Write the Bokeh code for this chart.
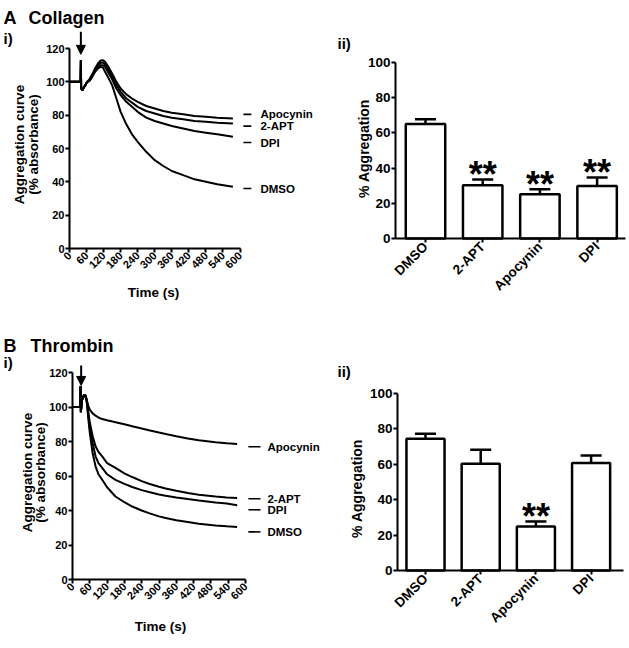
import math
from bokeh.plotting import figure
from bokeh.models import (Range1d, FixedTicker, Arrow, NormalHead, Whisker, TeeHead,
                          ColumnDataSource)
from bokeh.core.properties import value
from bokeh.layouts import row, column
from bokeh.embed import file_html
from bokeh.resources import INLINE

FONT = "Liberation Sans"

# ---------------- data ----------------
series_names = ["Apocynin", "2-APT", "DPI", "DMSO"]

# A(i) collagen aggregation traces (time in s, % absorbance)
collagen_time = [0, 39, 40, 41, 45, 50, 56, 62, 70, 80, 90, 100, 110, 118, 125, 135, 150,
                 165, 180, 200, 220, 240, 270, 300, 330, 360, 400, 440, 480, 520, 575]
collagen_apocynin = [100, 100, 113, 96, 95, 96.5, 98, 100, 101.5, 104.5, 108, 111, 112.8, 113,
                     112, 109.5, 105, 100, 96, 92.5, 90, 88, 85.5, 84, 82.5, 81.5, 80.5, 79.5,
                     79, 78.5, 78]
collagen_2apt = [100, 100, 113, 96, 95, 96.5, 98, 100, 101, 104, 107, 110, 111.5, 111.5, 110.5,
                 107.5, 103, 98, 94, 90, 87.5, 85, 82.5, 81, 79.5, 78.5, 77.5, 76.5, 76, 75.5, 75]
collagen_dpi = [100, 100, 113, 96, 95, 96.5, 98, 100, 100.5, 103.5, 106.5, 109, 110, 110, 109,
                106, 101.5, 96, 92, 88, 85, 82, 78.5, 76.5, 75, 73.5, 72, 70.5, 69.5, 68.5, 67]
collagen_dmso = [100, 100, 113, 96, 95, 96.5, 98, 100, 100.5, 103, 106, 108, 109, 108.5, 106,
                 103, 98, 90, 82, 74.5, 68.5, 64, 58, 53, 49.5, 46.5, 44, 41.5, 40, 38.5, 37]
collagen_label_y = [80.5, 73.4, 63.6, 36.0]
collagen_agonist_t = 40

# B(i) thrombin aggregation traces
thrombin_time = [0, 27, 28, 29, 33, 40, 45, 50, 55, 60, 70, 80, 90, 103, 120, 149, 180, 207,
                 240, 265, 300, 323, 360, 400, 438, 496, 535, 571]
thrombin_apocynin = [100, 100, 112, 97, 104, 107, 106, 103.5, 100.5, 98.5, 96.3, 95, 93.9, 93,
                     92.3, 91.2, 90, 88.8, 87.5, 86.5, 85.2, 84.4, 83.1, 81.8, 80.7, 79.5, 79, 78.6]
thrombin_2apt = [100, 100, 112, 97, 104, 107, 107, 104, 97, 91, 83, 77.2, 74, 71.4, 67.5, 64.7,
                 61.5, 59.4, 57, 55.5, 53.8, 52.8, 51.4, 50.1, 49.1, 48.1, 47.6, 47.2]
thrombin_dpi = [100, 100, 112, 97, 104, 107, 106.5, 103, 95, 88, 79, 71.4, 67.5, 64.7, 61, 57.8,
                55.4, 53.6, 51.8, 50.7, 49.3, 48.5, 47.5, 46.6, 45.8, 44.7, 44, 43.1]
thrombin_dmso = [100, 100, 112, 97, 104, 107, 106, 102, 93, 85, 73, 65.6, 61, 57.8, 53.5, 48.1,
                 44.8, 42.3, 40, 38.5, 36.6, 35.6, 34.3, 33.3, 32.3, 31.3, 30.8, 30.5]
thrombin_label_y = [77.0, 46.8, 40.4, 27.6]
thrombin_agonist_t = 30

time_ticks = [0, 60, 120, 180, 240, 300, 360, 420, 480, 540, 600]
curve_y_ticks = [0, 20, 40, 60, 80, 100, 120]

# (ii) bar charts: % aggregation, mean and upper SEM
bar_categories = ["DMSO", "2-APT", "Apocynin", "DPI"]
collagen_mean = [65.0, 30.3, 25.2, 29.9]
collagen_sem = [2.8, 3.2, 2.8, 4.8]
collagen_sig = ["", "**", "**", "**"]
thrombin_mean = [74.4, 60.3, 24.9, 60.8]
thrombin_sem = [2.8, 7.9, 2.8, 4.2]
thrombin_sig = ["", "", "**", ""]
bar_y_ticks = [0, 20, 40, 60, 80, 100]


class Geom:
    """Page-pixel placement of a panel: canvas origin/size, data origin and pixel scales."""
    def __init__(self, ox, oy, w, h, x0px, xs, y0px, ys):
        self.ox, self.oy, self.w, self.h = ox, oy, w, h
        self.x0px, self.xs, self.y0px, self.ys = x0px, xs, y0px, ys

    def xr(self):
        return Range1d((self.ox - self.x0px) / self.xs, (self.ox + self.w - self.x0px) / self.xs)

    def yr(self):
        return Range1d((self.y0px - (self.oy + self.h)) / self.ys, (self.y0px - self.oy) / self.ys)

    def dx(self, px):
        return (px - self.x0px) / self.xs

    def dy(self, py):
        return (self.y0px - py) / self.ys


def make_fig(g):
    p = figure(width=g.w, height=g.h, x_range=g.xr(), y_range=g.yr(), title=None,
               output_backend="svg", toolbar_location=None,
               min_border_left=0, min_border_right=0, min_border_top=0, min_border_bottom=0)
    p.xgrid.visible = False
    p.ygrid.visible = False
    p.outline_line_color = None
    p.background_fill_color = "white"
    p.border_fill_color = "white"
    return p


def style_axes(p, tick_px):
    for ax in (p.xaxis[0], p.yaxis[0]):
        ax.axis_line_width = 2
        ax.axis_line_color = "black"
        ax.major_tick_line_width = 2
        ax.major_tick_line_color = "black"
        ax.major_tick_in = 0
        ax.major_tick_out = 4
        ax.minor_tick_line_color = None
        ax.major_label_text_font = FONT
        ax.major_label_text_font_style = "bold"
        ax.major_label_text_font_size = f"{tick_px}px"
        ax.major_label_text_color = "black"


def put_text(p, g, text, px, py, size, align="left", baseline="alphabetic", angle=0.0):
    p.text(x=[g.dx(px)], y=[g.dy(py)], text=[text], angle=angle,
           text_font=value(FONT), text_font_style="bold", text_font_size=f"{size}px",
           text_color="black", text_align=align, text_baseline=baseline)


def curve_panel(g, times, series, label_y, agonist_t, arrow_y, dash_x, text_x):
    p = make_fig(g)
    for ys in series:
        p.line(times, ys, line_color="black", line_width=2)
    p.segment(x0=[dash_x[0]] * len(label_y), x1=[dash_x[1]] * len(label_y),
              y0=label_y, y1=label_y, line_color="black", line_width=1.6)
    p.text(x=[text_x] * len(label_y), y=label_y, text=series_names,
           text_font=value(FONT), text_font_style="bold", text_font_size="11.5px",
           text_color="black", text_align="left", text_baseline="middle")
    p.add_layout(Arrow(x_start=agonist_t, y_start=arrow_y[0], x_end=agonist_t, y_end=arrow_y[1],
                       line_width=2, line_color="black",
                       end=NormalHead(size=9, fill_color="black", line_color="black")))
    p.xaxis.ticker = FixedTicker(ticks=time_ticks)
    p.yaxis.ticker = FixedTicker(ticks=curve_y_ticks)
    p.xaxis.bounds = (time_ticks[0], time_ticks[-1])
    p.yaxis.bounds = (curve_y_ticks[0], curve_y_ticks[-1])
    p.xaxis.fixed_location = curve_y_ticks[0]
    p.yaxis.fixed_location = time_ticks[0]
    p.xaxis.major_label_orientation = math.pi / 4
    style_axes(p, 11)
    p.xaxis.major_label_standoff = 1
    p.yaxis.major_label_standoff = 1
    return p


def bar_panel(g, axis_x0, axis_x1, mean, sem, sig):
    p = make_fig(g)
    xs = list(range(len(bar_categories)))
    upper = [m + e for m, e in zip(mean, sem)]
    src = ColumnDataSource(dict(x=xs, lower=mean, upper=upper))
    p.add_layout(Whisker(source=src, base="x", lower="lower", upper="upper", dimension="height",
                         line_width=2.5, line_color="black", lower_head=None,
                         upper_head=TeeHead(size=21, line_width=2.5, line_color="black")))
    p.vbar(x=xs, top=mean, bottom=0, width=0.69, fill_color="white", line_color="black",
           line_width=2.5)
    p.text(x=xs, y=upper, text=sig, text_font=value(FONT), text_font_style="bold",
           text_font_size="36px", text_color="black", text_align="center",
           text_baseline="alphabetic", y_offset=-5)
    p.xaxis.ticker = FixedTicker(ticks=xs)
    p.xaxis.major_label_overrides = {i: c for i, c in enumerate(bar_categories)}
    p.xaxis.major_label_orientation = math.pi / 4
    p.xaxis.bounds = (axis_x0, axis_x1)
    p.xaxis.fixed_location = 0
    p.yaxis.ticker = FixedTicker(ticks=bar_y_ticks)
    p.yaxis.bounds = (bar_y_ticks[0], bar_y_ticks[-1])
    p.yaxis.fixed_location = axis_x0
    style_axes(p, 13.5)
    p.xaxis.major_label_standoff = 2
    p.yaxis.major_label_standoff = 1
    return p


# ---------------- panels ----------------
ga = Geom(0, 0, 335, 320, 69, 170.5 / 600, 248, 200 / 120)
fa = curve_panel(ga, collagen_time, [collagen_apocynin, collagen_2apt, collagen_dpi, collagen_dmso],
                 collagen_label_y, collagen_agonist_t, (130, 116.5), (612, 640), 672)
put_text(fa, ga, "A", 3, 17, 18)
put_text(fa, ga, "Collagen", 28, 17, 18)
put_text(fa, ga, "i)", 3, 38, 15)
put_text(fa, ga, "Time (s)", 153, 292, 13.5, "center", "middle")
put_text(fa, ga, "Aggregation curve", 19, 144, 13.5, "center", "middle", math.pi / 2)
put_text(fa, ga, "(% absorbance)", 32.5, 144, 13.5, "center", "middle", math.pi / 2)

gc = Geom(0, 320, 335, 326, 72, 173 / 600, 579, 207 / 120)
fc = curve_panel(gc, thrombin_time, [thrombin_apocynin, thrombin_2apt, thrombin_dpi, thrombin_dmso],
                 thrombin_label_y, thrombin_agonist_t, (124.1, 112.5), (610, 652), 676)
put_text(fc, gc, "B", 3, 345, 18)
put_text(fc, gc, "Thrombin", 30, 345, 18)
put_text(fc, gc, "i)", 3, 362, 15)
put_text(fc, gc, "Time (s)", 160, 626, 13.5, "center", "middle")
put_text(fc, gc, "Aggregation curve", 27, 472, 13.5, "center", "middle", math.pi / 2)
put_text(fc, gc, "(% absorbance)", 40, 472, 13.5, "center", "middle", math.pi / 2)

gb = Geom(335, 0, 292, 320, 425, 57.2, 238, 1.76)
fb = bar_panel(gb, gb.dx(395), gb.dx(625), collagen_mean, collagen_sem, collagen_sig)
put_text(fb, gb, "ii)", 337, 43, 15)
put_text(fb, gb, "% Aggregation", 363, 148, 14, "center", "middle", math.pi / 2)

gd = Geom(335, 320, 292, 326, 425, 55.2, 570, 1.77)
fd = bar_panel(gd, gd.dx(397), gd.dx(623), thrombin_mean, thrombin_sem, thrombin_sig)
put_text(fd, gd, "ii)", 337, 371, 15)
put_text(fd, gd, "% Aggregation", 356, 488, 14, "center", "middle", math.pi / 2)

layout = column(row(fa, fb), row(fc, fd))

open("out.html", "w").write(file_html(layout, INLINE))
